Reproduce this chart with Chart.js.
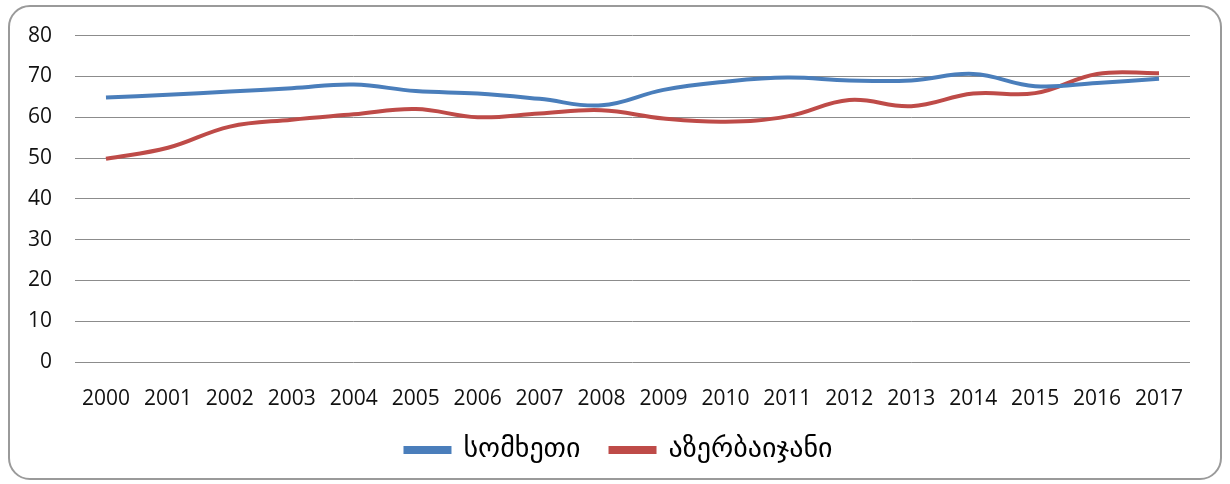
<!DOCTYPE html>
<html>
<head>
<meta charset="utf-8">
<script src="https://cdn.jsdelivr.net/npm/chart.js@4.4.1/dist/chart.umd.min.js"></script>
<style>
  html, body { margin: 0; padding: 0; background: #fff; }
  #wrap { position: relative; width: 1230px; height: 484px; }
  #frame {
    position: absolute; left: 8px; top: 5px; width: 1210px; height: 471px;
    border: 2px solid #9a9a9a; border-radius: 22px; pointer-events: none;
  }
</style>
</head>
<body>
<div id="wrap">
  <canvas id="myChart" width="1230" height="484"></canvas>
  <div id="frame"></div>
</div>
<script>
// data
const years = ['2000', '2001', '2002', '2003', '2004', '2005', '2006', '2007', '2008',
    '2009', '2010', '2011', '2012', '2013', '2014', '2015', '2016', '2017'];
const armenia = [64.8, 65.5, 66.3, 67.1, 68.0, 66.4, 65.8, 64.5, 62.9,
    66.7, 68.7, 69.7, 69.0, 69.0, 70.6, 67.6, 68.4, 69.4];
const azerbaijan = [49.8, 52.5, 57.7, 59.4, 60.7, 62.0, 60.0, 60.9, 61.7,
    59.7, 58.9, 60.2, 64.2, 62.7, 65.8, 65.9, 70.6, 70.8];
const seriesNames = ['სომხეთი', 'აზერბაიჯანი'];
const yTicks = [0, 10, 20, 30, 40, 50, 60, 70, 80];

const blue = '#4a7ebb';
const red = '#be4b48';
const fontFamily = '"Open Sans", "DejaVu Sans", sans-serif';

const ctx = document.getElementById('myChart').getContext('2d');

// keep the legend box at a fixed height so the plot area lands where it should,
// and nudge it a little to the right like in the original
const legendHeight = {
    id: 'legendHeight',
    beforeLayout(chart) {
        const lg = chart.legend;
        if (lg && !lg._fixed) {
            const fit = lg.fit.bind(lg);
            lg.fit = function () {
                fit();
                this.height = 78;
            };
            lg._fixed = true;
        }
    },
    afterLayout(chart) {
        const lg = chart.legend;
        if (lg) {
            lg.left += 14;
            lg.right += 14;
        }
    }
};

const config = {
    type: 'line',
    data: {
        labels: years,
        datasets: [{
            label: seriesNames[0],
            data: armenia,
            borderColor: blue,
            backgroundColor: blue,
            borderWidth: 4,
            pointRadius: 0,
            tension: 0.4
        }, {
            label: seriesNames[1],
            data: azerbaijan,
            borderColor: red,
            backgroundColor: red,
            borderWidth: 4,
            pointRadius: 0,
            tension: 0.4
        }]
    },
    options: {
        responsive: false,
        animation: false,
        layout: {
            padding: { top: 25, left: 20, right: 40, bottom: 0 }
        },
        plugins: {
            tooltip: { enabled: false },
            legend: {
                position: 'bottom',
                labels: {
                    color: '#000',
                    font: { family: '"DejaVu Sans", sans-serif', size: 28 },
                    boxWidth: 44,
                    boxHeight: 4,
                    padding: 30
                }
            }
        },
        scales: {
            x: {
                offset: true,
                grid: { display: false },
                border: { display: false },
                afterFit: (axis) => {
                    axis.height = 44;
                },
                ticks: {
                    color: '#111',
                    font: { family: fontFamily, size: 21 },
                    padding: 16,
                    maxRotation: 0,
                    autoSkip: false
                }
            },
            y: {
                min: 0,
                max: 80,
                afterBuildTicks: (axis) => {
                    axis.ticks = yTicks.map(v => ({ value: v }));
                },
                afterFit: (axis) => {
                    axis.width = 55;
                },
                grid: { color: '#8c8c8c', lineWidth: 1, drawTicks: false },
                border: { display: false },
                ticks: {
                    color: '#111',
                    font: { family: fontFamily, size: 21 },
                    padding: 23
                }
            }
        }
    },
    plugins: [legendHeight]
};

const chart = new Chart(ctx, config);
</script>
</body>
</html>
